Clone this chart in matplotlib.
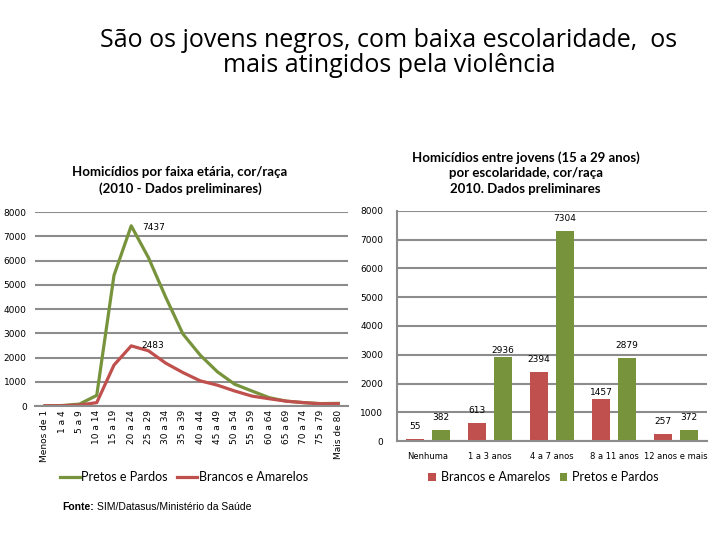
import matplotlib
matplotlib.use("Agg")
import matplotlib.pyplot as plt
import numpy as np

# ---- data ----
age_groups = ["Menos de 1", "1 a 4", "5 a 9", "10 a 14", "15 a 19", "20 a 24", "25 a 29",
              "30 a 34", "35 a 39", "40 a 44", "45 a 49", "50 a 54", "55 a 59", "60 a 64",
              "65 a 69", "70 a 74", "75 a 79", "Mais de 80"]
pretos_age = [10, 20, 80, 440, 5390, 7437, 6120, 4490, 2970, 2100, 1410, 900, 620, 345, 200, 140, 100, 110]
brancos_age = [10, 15, 40, 140, 1690, 2483, 2280, 1770, 1380, 1040, 860, 620, 410, 300, 200, 140, 90, 100]

school = ["Nenhuma", "1 a 3 anos", "4 a 7 anos", "8 a 11 anos", "12 anos e mais"]
brancos_school = [55, 613, 2394, 1457, 257]
pretos_school = [382, 2936, 7304, 2879, 372]

GREEN = "#77933C"
RED = "#C0504D"
GRID = "#8C8C8C"

fig = plt.figure(figsize=(7.2, 5.4), dpi=100)

fig.text(0.54, 0.901, "São os jovens negros, com baixa escolaridade,  os\nmais atingidos pela violência",
         ha="center", va="center", fontsize=18, family="Open Sans", linespacing=1.0)

# ---- left chart ----
ax1 = fig.add_axes([0.0486, 0.2481, 0.435, 0.359])
x1 = np.arange(len(age_groups))
ax1.plot(x1, pretos_age, color=GREEN, lw=2.3, label="Pretos e Pardos")
ax1.plot(x1, brancos_age, color=RED, lw=2.3, label="Brancos e Amarelos")
ax1.set_ylim(0, 8000)
ax1.set_xlim(-0.58, len(age_groups) - 0.42)
ax1.set_yticks(range(0, 8001, 1000))
ax1.set_xticks(x1)
ax1.set_xticklabels(age_groups, rotation=90, fontsize=6.5)
ax1.tick_params(axis="y", labelsize=6.5, length=0, pad=6)
ax1.tick_params(axis="x", length=0, pad=3)
ax1.yaxis.grid(True, color=GRID, lw=1.5)
ax1.set_axisbelow(True)
for s in ["top", "right", "left"]:
    ax1.spines[s].set_visible(False)
ax1.spines["bottom"].set_color(GRID)
ax1.spines["bottom"].set_linewidth(1.5)
i_pk = int(np.argmax(pretos_age))
ax1.annotate(str(pretos_age[i_pk]), (x1[i_pk], pretos_age[i_pk]), xytext=(8, -1),
             textcoords="offset points", fontsize=6.5, va="center")
i_pk2 = int(np.argmax(brancos_age))
ax1.annotate(str(brancos_age[i_pk2]), (x1[i_pk2], brancos_age[i_pk2]), xytext=(7, 0),
             textcoords="offset points", fontsize=6.5, va="center")

fig.text(0.25, 0.666, "Homicídios por faixa etária, cor/raça\n(2010 - Dados preliminares)",
         ha="center", va="center", fontsize=9.5, fontweight="bold", family="Lato", linespacing=1.35)

leg1 = fig.legend(handles=ax1.get_lines(), loc="center", bbox_to_anchor=(0.255, 0.116),
                  ncol=2, frameon=False, prop={"family": "Lato", "size": 9},
                  handlelength=1.6, handletextpad=0.1, columnspacing=0.8)

fig.text(0.086, 0.062, "Fonte:", fontsize=7.5, fontweight="bold", family="Liberation Sans", va="center")
fig.text(0.135, 0.062, "SIM/Datasus/Ministério da Saúde", fontsize=7.5, family="Liberation Sans", va="center")

# ---- right chart ----
ax2 = fig.add_axes([0.5514, 0.1833, 0.4306, 0.426])
x2 = np.arange(len(school))
w = 0.3
off = 0.21
b1 = ax2.bar(x2 - off, brancos_school, w, color=RED, label="Brancos e Amarelos")
b2 = ax2.bar(x2 + off, pretos_school, w, color=GREEN, label="Pretos e Pardos")
ax2.set_ylim(0, 8000)
ax2.set_xlim(-0.5, len(school) - 0.5)
ax2.set_yticks(range(0, 8001, 1000))
ax2.set_xticks(x2)
ax2.set_xticklabels(school, fontsize=6, family="Liberation Sans Narrow")
ax2.tick_params(axis="y", labelsize=6.5, length=0, pad=10)
ax2.tick_params(axis="x", length=0, pad=8)
ax2.yaxis.grid(True, color=GRID, lw=1.5)
ax2.set_axisbelow(True)
for s in ["top", "right"]:
    ax2.spines[s].set_visible(False)
for s in ["left", "bottom"]:
    ax2.spines[s].set_color(GRID)
    ax2.spines[s].set_linewidth(1.5)

for k, bars in enumerate([b1, b2]):
    vals = brancos_school if k == 0 else pretos_school
    for i, (rect, v) in enumerate(zip(bars, vals)):
        dy = 9
        if (k, i) in [(0, 3), (1, 1)]:
            dy = 4.5
        ax2.annotate(str(v), (rect.get_x() + rect.get_width() / 2, v), xytext=(0, dy),
                     textcoords="offset points", ha="center", va="center", fontsize=6.5)

fig.text(0.73, 0.68, "Homicídios entre jovens (15 a 29 anos)\npor escolaridade, cor/raça\n2010. Dados preliminares",
         ha="center", va="center", fontsize=9.5, fontweight="bold", family="Lato", linespacing=1.35)

leg2 = fig.legend(handles=[b1, b2], loc="center", bbox_to_anchor=(0.755, 0.116),
                  ncol=2, frameon=False, prop={"family": "Lato", "size": 9},
                  handlelength=0.6, handleheight=0.6, handletextpad=0.4, columnspacing=0.8)

fig.savefig("out.png", dpi=100)
